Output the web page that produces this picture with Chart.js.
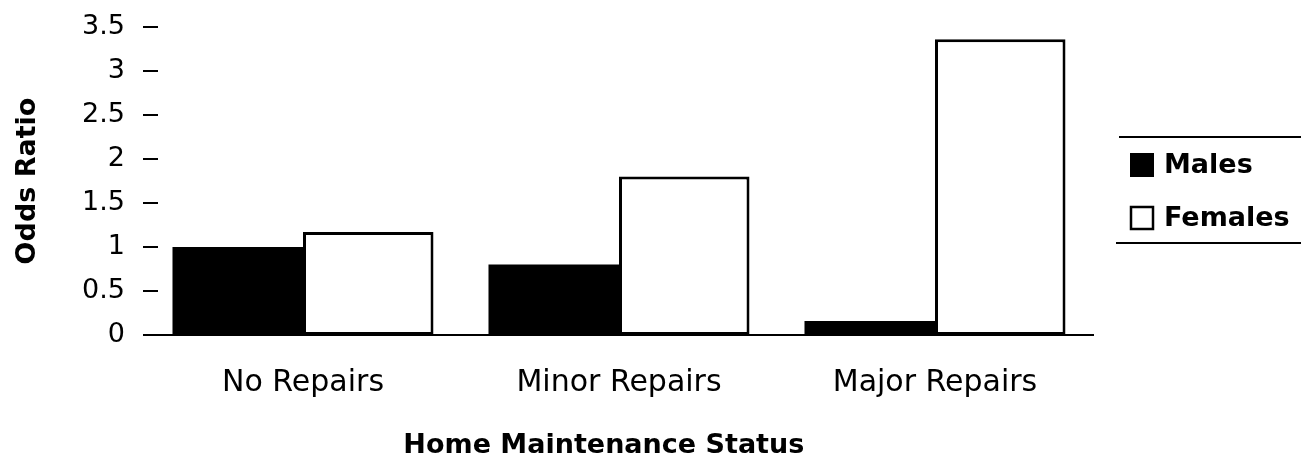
<!DOCTYPE html>
<html>
<head>
<meta charset="utf-8">
<script src="https://cdn.jsdelivr.net/npm/chart.js@4"></script>
<style>
  html, body { margin: 0; padding: 0; background: #fff; }
  #wrap { width: 1301px; height: 475px; }
</style>
</head>
<body>
<div id="wrap"><canvas id="c" width="1301" height="475"></canvas></div>
<script>
const categories = ["No Repairs", "Minor Repairs", "Major Repairs"];
const males = [1.0, 0.8, 0.16];
const females = [1.17, 1.8, 3.36];
const seriesNames = ["Males", "Females"];
const yTicks = [0, 0.5, 1, 1.5, 2, 2.5, 3, 3.5];
const yTitle = "Odds Ratio";
const xTitle = "Home Maintenance Status";

const FONT = "'DejaVu Sans', sans-serif";

const customPlugin = {
  id: 'custom',
  afterDraw(chart) {
    const ctx = chart.ctx;
    const ca = chart.chartArea;
    const ys = chart.scales.y;
    ctx.save();
    // y tick marks (drawn just inside the plot edge as in the reference)
    ctx.strokeStyle = '#000';
    ctx.lineWidth = 2;
    ctx.beginPath();
    yTicks.forEach(v => {
      const py = Math.round(ys.getPixelForValue(v));
      ctx.moveTo(ca.left - 2, py);
      ctx.lineTo(ca.left + 13, py);
    });
    ctx.stroke();
    // x axis title
    ctx.fillStyle = '#000';
    ctx.font = "bold 27px " + FONT;
    ctx.textAlign = 'center';
    ctx.textBaseline = 'middle';
    ctx.fillText(xTitle, ca.left + (ca.right - ca.left) * 0.484, 446);
    // legend
    ctx.lineWidth = 2;
    ctx.beginPath();
    ctx.moveTo(1119, 137); ctx.lineTo(1301, 137);
    ctx.moveTo(1116, 243); ctx.lineTo(1301, 243);
    ctx.stroke();
    ctx.fillRect(1130, 153, 24, 24);
    ctx.lineWidth = 2.5;
    ctx.strokeRect(1131, 207, 22, 22);
    ctx.font = "bold 27px " + FONT;
    ctx.textAlign = 'left';
    ctx.fillText(seriesNames[0], 1164, 166);
    ctx.fillText(seriesNames[1], 1164, 219);
    ctx.restore();
  }
};

new Chart(document.getElementById('c'), {
  type: 'bar',
  data: {
    labels: categories,
    datasets: [
      { label: seriesNames[0], data: males, backgroundColor: '#000', borderColor: '#000', borderWidth: 0 },
      { label: seriesNames[1], data: females, backgroundColor: '#fff', borderColor: '#000', borderWidth: 3, borderSkipped: false }
    ]
  },
  options: {
    responsive: false,
    animation: false,
    devicePixelRatio: 1,
    layout: { padding: { top: 27, right: 208, left: 0, bottom: 0 } },
    plugins: { legend: { display: false }, tooltip: { enabled: false } },
    datasets: { bar: { barPercentage: 1.0, categoryPercentage: 0.826 } },
    scales: {
      x: {
        grid: { display: false, drawTicks: false },
        border: { display: true, color: '#000', width: 2 },
        ticks: { color: '#000', font: { family: FONT, size: 30 }, padding: 30 },
        afterFit(s) { s.height = 140; }
      },
      y: {
        min: 0, max: 3.5,
        afterBuildTicks(s) { s.ticks = yTicks.map(v => ({ value: v })); },
        grid: { display: false, drawTicks: false },
        border: { display: false },
        ticks: { color: '#000', font: { family: FONT, size: 27 }, padding: 20,
                 callback: (v) => String(v) },
        title: { display: true, text: yTitle, color: '#000', font: { family: FONT, size: 27, weight: 'bold' }, padding: { top: 12, bottom: 0 } },
        afterFit(s) { s.width = 145; s.paddingTop = 0; s.paddingBottom = 0; }
      }
    }
  },
  plugins: [customPlugin]
});
</script>
</body>
</html>
